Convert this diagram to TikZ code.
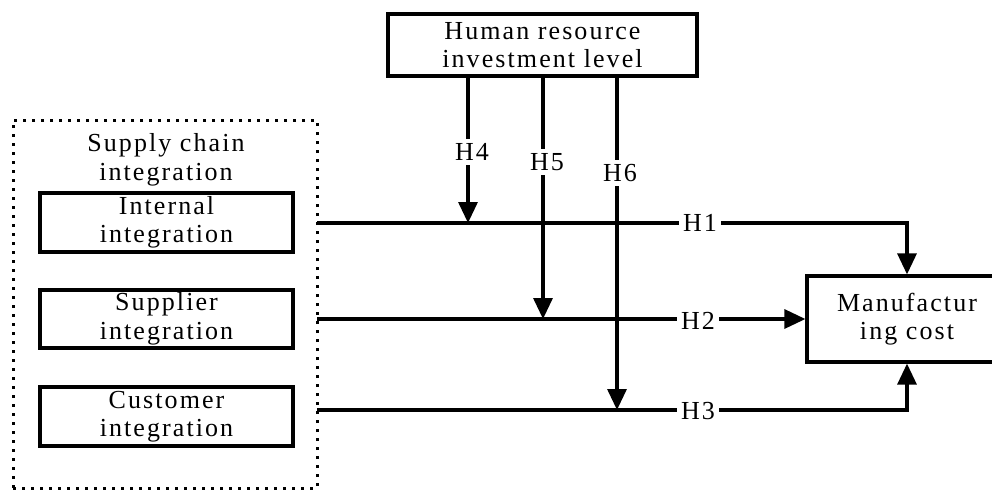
\documentclass[tikz,border=0pt]{standalone}
\usepackage{fontspec}
\setmainfont{Liberation Serif}[LetterSpace=8]
\usetikzlibrary{arrows.meta}
\begin{document}
\begin{tikzpicture}[x=1pt,y=-1pt,
  font=\fontsize{26}{28.5}\selectfont,
  box/.style={draw, line width=3.2pt, align=center, inner sep=0pt},
  dotbox/.style={draw, line width=3pt, dash pattern=on 2.8pt off 6.2pt, inner sep=0pt},
  conn/.style={line width=3.2pt, -{Triangle[width=19pt,length=21pt]}},
  lab/.style={fill=white, inner sep=4pt}]
\useasboundingbox (0,0) rectangle (992,491);

% grouping frame and its three dimensions
\node[dotbox, minimum width=304pt, minimum height=368pt] (scm) at (165,304) {};
\node[align=center] (scmt) at (166,160) {Supply chain\\integration};
\node[box, minimum width=253pt, minimum height=59pt] (int) at (166.5,222.5) {Internal\\integration};
\node[box, minimum width=253pt, minimum height=58pt] (sup) at (166.5,319) {Supplier\\integration};
\node[box, minimum width=253pt, minimum height=59pt] (cus) at (166.5,416.5) {Customer\\integration};

% moderator and outcome (the outcome box runs past the right edge)
\node[box, minimum width=309pt, minimum height=62pt] (hr) at (542.5,45) {Human resource\\investment level};
\node[box, minimum width=200pt, minimum height=86pt] (mc) at (907,319) {Manufactur\\ing cost};

% start points of the main paths on the frame edge
\coordinate (r1) at (317,223);
\coordinate (r2) at (317,319);
\coordinate (r3) at (317,410);

% columns of the moderating paths
\coordinate (x4) at (468,0);
\coordinate (x5) at (543,0);
\coordinate (x6) at (617,0);

% main effects
\draw[conn] (r1) -| (mc.north);
\draw[conn] (r2) -- (mc.west);
\draw[conn] (r3) -| (mc.south);
\node[lab] (h1) at (700,223) {H1};
\node[lab] (h2) at (698,321) {H2};
\node[lab] (h3) at (698,411) {H3};

% moderating effects
\draw[conn] (hr.south -| x4) -- (x4 |- r1);
\draw[conn] (hr.south -| x5) -- (x5 |- r2);
\draw[conn] (hr.south -| x6) -- (x6 |- r3);
\node[lab] (h4) at (472,152) {H4};
\node[lab] (h5) at (547,162) {H5};
\node[lab] (h6) at (620,173) {H6};
\end{tikzpicture}
\end{document}
